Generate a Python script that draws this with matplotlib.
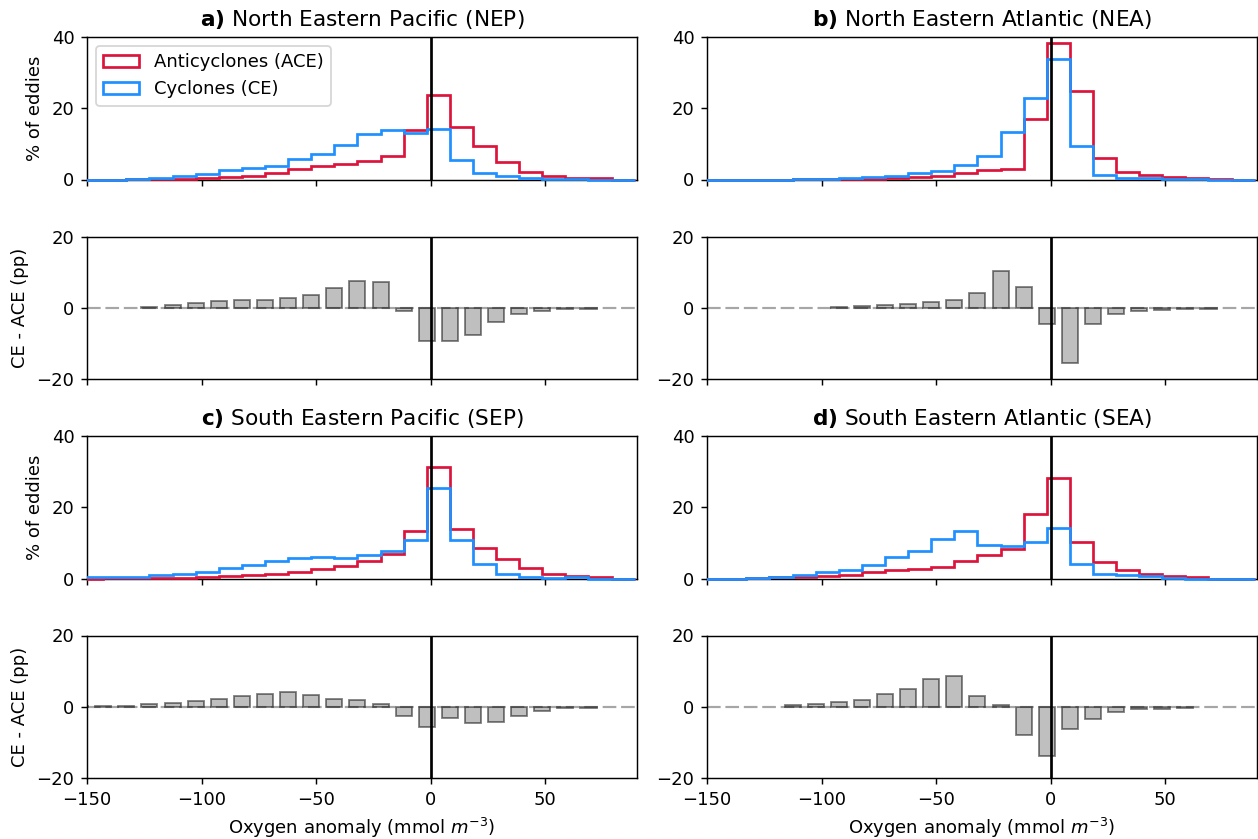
import numpy as np
import matplotlib
matplotlib.use("Agg")
import matplotlib.pyplot as plt
from matplotlib.transforms import Bbox, TransformedBbox

# ---------------- data ----------------
bin_edges = np.linspace(-153, 89, 25)   # 24 bins of oxygen anomaly (mmol m-3)

ace_nep = [0, 0, 0.15, 0.1, 0.2, 0.3, 0.8, 1.0, 1.7, 3.0, 3.7, 4.3, 5.2, 6.7, 14.0, 23.6, 14.8, 9.5, 5.0, 2.1, 0.9, 0.4, 0.3, 0.0]
ce_nep = [0, 0, 0.15, 0.4, 1.0, 1.6, 2.6, 3.2, 3.8, 5.7, 7.2, 9.8, 12.7, 13.8, 13.0, 14.2, 5.4, 1.9, 1.1, 0.3, 0.1, 0.05, 0.0, 0.0]

ace_nea = [0, 0, 0, 0, 0.05, 0.1, 0.05, 0.2, 0.3, 0.7, 1.0, 1.8, 2.6, 3.0, 17.0, 38.3, 24.8, 5.9, 2.1, 1.4, 0.75, 0.35, 0.25, 0]
ce_nea = [0, 0, 0, 0, 0.05, 0.1, 0.4, 0.6, 1.0, 1.8, 2.5, 4.0, 6.7, 13.3, 22.9, 33.8, 9.3, 1.3, 0.4, 0.35, 0.05, 0.02, 0, 0]

ace_sep = [0, 0.1, 0.1, 0.1, 0.2, 0.3, 0.7, 1.0, 1.2, 1.7, 2.7, 3.5, 4.8, 6.9, 13.3, 31.3, 13.8, 8.6, 5.6, 3.0, 1.4, 0.7, 0.3, 0]
ce_sep = [0.3, 0.4, 0.4, 0.9, 1.3, 1.9, 3.0, 3.9, 4.9, 5.8, 6.1, 5.7, 6.6, 7.7, 10.7, 25.5, 10.7, 4.0, 1.4, 0.4, 0.2, 0.4, 0, 0]

ace_sea = [0, 0, 0.1, 0.3, 0.4, 0.8, 1.1, 1.9, 2.4, 2.8, 3.1, 4.8, 6.5, 8.4, 18.0, 28.1, 10.3, 4.7, 2.4, 1.4, 0.7, 0.3, 0, 0]
ce_sea = [0, 0, 0.1, 0.3, 1.0, 1.7, 2.4, 3.7, 6.0, 7.8, 11.0, 13.4, 9.5, 9.0, 10.2, 14.3, 4.0, 1.4, 0.9, 0.7, 0.2, 0.0, 0, 0]

panel_letters = ["a)", "b)", "c)", "d)"]
panel_names = ["North Eastern Pacific (NEP)", "North Eastern Atlantic (NEA)",
               "South Eastern Pacific (SEP)", "South Eastern Atlantic (SEA)"]
ace_all = [ace_nep, ace_nea, ace_sep, ace_sea]
ce_all = [ce_nep, ce_nea, ce_sep, ce_sea]

xticks = [-150, -100, -50, 0, 50]

# ---------------- figure ----------------
W, H, DPI = 1258, 839, 130
fig = plt.figure(figsize=(W / DPI, H / DPI), dpi=DPI)

lefts = [87 / W, 707 / W]
aw = 550 / W
ah = 142.5 / H
bot_hist = [1 - 179.5 / H, 1 - 578.5 / H]
bot_diff = [1 - 379 / H, 1 - 778 / H]

centers = 0.5 * (bin_edges[:-1] + bin_edges[1:])

for k in range(4):
    col = k % 2
    row = k // 2
    ace = np.array(ace_all[k], dtype=float)
    ce = np.array(ce_all[k], dtype=float)
    diff = ce - ace

    axh = fig.add_axes([lefts[col], bot_hist[row], aw, ah])
    axd = fig.add_axes([lefts[col], bot_diff[row], aw, ah])

    _, _, p1 = axh.hist(centers, bins=bin_edges, weights=ace, histtype="step",
                        color="crimson", lw=1.5, label="Anticyclones (ACE)", zorder=3)
    _, _, p2 = axh.hist(centers, bins=bin_edges, weights=ce, histtype="step",
                        color="dodgerblue", lw=1.5, label="Cyclones (CE)", zorder=3)
    # let the step outline show its full width along the zero baseline
    clip = TransformedBbox(Bbox([[0, -0.03], [1, 1]]), axh.transAxes)
    for p in list(p1) + list(p2):
        p.set_clip_box(clip)
        p.set_clip_path(None)

    axh.axvline(0, color="k", lw=1.5, zorder=4)
    axh.set_xlim(-150, 90)
    axh.set_ylim(0, 40)
    axh.set_yticks([0, 20, 40])
    axh.set_xticks(xticks)
    axh.tick_params(labelbottom=False)
    axh.set_title(r"$\bf{" + panel_letters[k] + "}$ " + panel_names[k], fontsize=12)

    axd.axhline(0, color="grey", ls=(0, (6.3, 2.2)), lw=1.2, alpha=0.7, zorder=0)
    mask = diff != 0
    axd.bar(bin_edges[:-1][mask], diff[mask], width=7, color="grey",
            edgecolor="k", alpha=0.5, lw=1)
    axd.axvline(0, color="k", lw=1.5, zorder=4)
    axd.set_xlim(-150, 90)
    axd.set_ylim(-20, 20)
    axd.set_yticks([-20, 0, 20])
    axd.set_xticks(xticks)

    if row == 0:
        axd.tick_params(labelbottom=False)
    else:
        axd.set_xlabel("Oxygen anomaly (mmol $m^{-3}$)")
    if col == 0:
        axh.set_ylabel("% of eddies")
        axd.set_ylabel("CE - ACE (pp)")
    if k == 0:
        axh.legend(loc="upper left")

fig.savefig("out.png", dpi=DPI)
